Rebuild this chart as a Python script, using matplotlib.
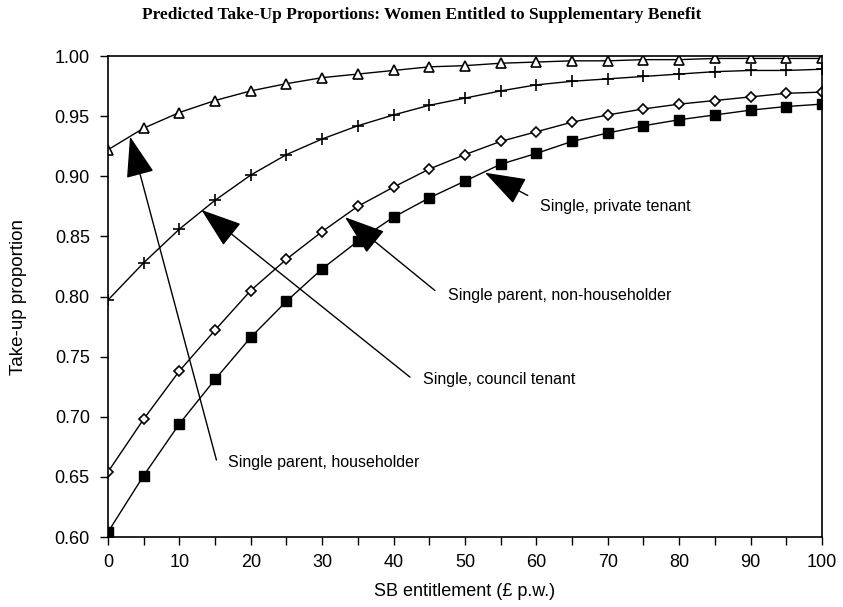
import matplotlib
matplotlib.use("Agg")
import matplotlib.pyplot as plt
from matplotlib.ticker import MultipleLocator, FormatStrFormatter

# SB entitlement (pounds per week)
entitlement = list(range(0, 101, 5))

# take-up proportions
single_parent_householder = [0.922, 0.940, 0.953, 0.963, 0.971, 0.977, 0.982, 0.985, 0.988, 0.991, 0.992,
                             0.994, 0.995, 0.996, 0.996, 0.997, 0.997, 0.998, 0.998, 0.998, 0.998]
single_council_tenant = [0.797, 0.828, 0.856, 0.880, 0.901, 0.918, 0.931, 0.942, 0.951, 0.959, 0.965,
                         0.971, 0.976, 0.979, 0.981, 0.983, 0.985, 0.987, 0.988, 0.988, 0.989]
single_parent_nonhouseholder = [0.654, 0.698, 0.738, 0.772, 0.805, 0.831, 0.854, 0.875, 0.891, 0.906, 0.918,
                                0.929, 0.937, 0.945, 0.951, 0.956, 0.960, 0.963, 0.966, 0.969, 0.970]
single_private_tenant = [0.604, 0.651, 0.694, 0.731, 0.766, 0.796, 0.823, 0.846, 0.866, 0.882, 0.896,
                         0.910, 0.919, 0.929, 0.936, 0.942, 0.947, 0.951, 0.955, 0.958, 0.960]

# labels: (text, arrow tip, arrow tail, text position)
labels = ["Single, private tenant", "Single parent, non-householder",
          "Single, council tenant", "Single parent, householder"]
tips = [(52.8, 0.903), (33.2, 0.866), (13.1, 0.872), (3.1, 0.933)]
tails = [(58.8, 0.884), (45.8, 0.805), (42.3, 0.733), (15.2, 0.664)]
text_pos = [(60.5, 0.875), (47.6, 0.801), (44.1, 0.731), (16.8, 0.662)]

fig = plt.figure(figsize=(8.43, 6.07), dpi=100)
ax = fig.add_axes([0.128, 0.1153, 0.847, 0.7924])

#SERIES
ax.plot(entitlement, single_parent_householder, color="black", lw=1, marker="^",
        ms=7, mfc="white", mec="black", mew=1.2)
ax.plot(entitlement, single_council_tenant, color="black", lw=1, marker="+",
        ms=8, mew=1.2)
ax.plot(entitlement, single_parent_nonhouseholder, color="black", lw=1, marker="D",
        ms=5, mfc="white", mec="black", mew=1.2)
ax.plot(entitlement, single_private_tenant, color="black", lw=1, marker="s",
        ms=7.5, mfc="black", mec="black")

#ANNOTATIONS
for lab, tip, tail, tp in zip(labels, tips, tails, text_pos):
    ax.annotate("", xy=tip, xytext=tail,
                arrowprops=dict(arrowstyle="-|>,head_length=1.3,head_width=0.45",
                                mutation_scale=20, fc="black", ec="black", lw=1,
                                shrinkA=0, shrinkB=0))
    ax.text(tp[0], tp[1], lab, fontsize=11.5, family="Liberation Sans",
            ha="left", va="center")

#AXES
ax.set_xlim(0, 100)
ax.set_ylim(0.60, 1.00)
ax.xaxis.set_major_locator(MultipleLocator(10))
ax.xaxis.set_minor_locator(MultipleLocator(5))
ax.yaxis.set_major_locator(MultipleLocator(0.05))
ax.yaxis.set_major_formatter(FormatStrFormatter("%.2f"))
ax.tick_params(which="major", length=6, labelsize=13, width=1)
ax.tick_params(which="minor", length=6, width=1)
for lab in ax.get_xticklabels() + ax.get_yticklabels():
    lab.set_family("Liberation Sans")
ax.tick_params(axis="x", pad=6)
ax.tick_params(axis="y", pad=7)
for s in ax.spines.values():
    s.set_linewidth(1.2)

ax.set_xlabel("SB entitlement (\u00a3 p.w.)", fontsize=13, family="Liberation Sans", labelpad=9)
ax.set_ylabel("Take-up proportion", fontsize=13.5, family="Liberation Sans", labelpad=20)
fig.text(0.5, 0.975, "Predicted Take-Up Proportions: Women Entitled to Supplementary Benefit",
         ha="center", va="center", fontsize=12.5, fontweight="bold", family="Liberation Serif")

fig.savefig("out.png", dpi=100)
